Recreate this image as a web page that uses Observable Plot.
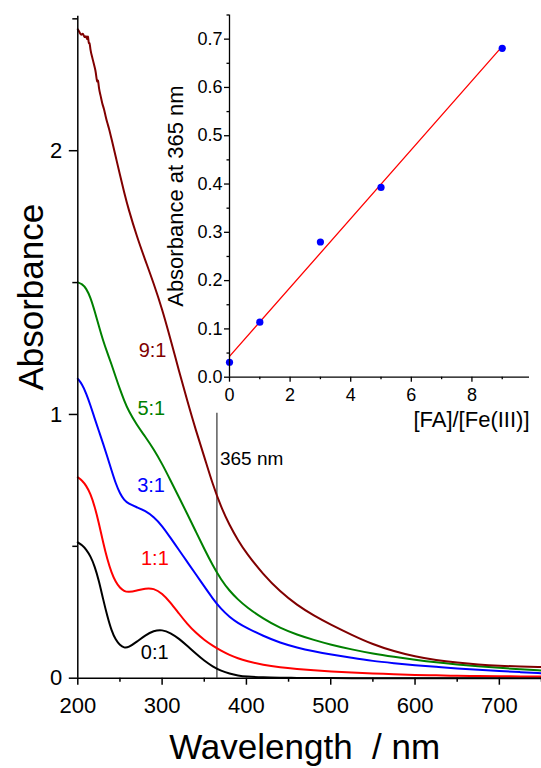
<!DOCTYPE html>
<html><head><meta charset="utf-8">
<script src="https://cdn.jsdelivr.net/npm/d3@7"></script>
<script src="https://cdn.jsdelivr.net/npm/@observablehq/plot@0.6"></script>
<style>
html,body{margin:0;padding:0;background:#fff;}
#wrap{position:relative;width:541px;height:768px;overflow:hidden;font-family:"Liberation Sans",Arial,sans-serif;}
#main,#inset{position:absolute;top:0;}
#main{left:0;}
#inset{left:140px;}
</style></head>
<body><div id="wrap"><div id="main"></div><div id="inset"></div></div>
<script>
// ---- Main spectra data ----
const wl = [200,205,210,215,220,225,230,235,240,245,250,255,260,270,280,290,300,310,320,330,340,350,360,370,380,390,400,420,440,460,480,500,525,550,575,600,625,650,675,700,725,750];
const abs01 = [0.515,0.505,0.488,0.463,0.425,0.37,0.30,0.235,0.18,0.145,0.125,0.115,0.116,0.138,0.163,0.18,0.184,0.172,0.15,0.122,0.093,0.066,0.044,0.028,0.017,0.01,0.006,0.003,0.002,0.001,0.001,0.001,0,0,0,0,0,0,0,0,0,0];
const abs11 = [0.762,0.75,0.73,0.70,0.652,0.588,0.515,0.45,0.40,0.364,0.342,0.33,0.326,0.332,0.341,0.341,0.322,0.287,0.245,0.205,0.172,0.145,0.123,0.104,0.088,0.075,0.065,0.05,0.041,0.035,0.03,0.026,0.021,0.018,0.015,0.012,0.011,0.009,0.008,0.007,0.007,0.006];
const abs31 = [1.135,1.115,1.08,1.035,0.985,0.937,0.89,0.84,0.788,0.738,0.70,0.675,0.662,0.648,0.635,0.612,0.578,0.532,0.486,0.44,0.394,0.348,0.302,0.262,0.232,0.209,0.191,0.16,0.134,0.116,0.102,0.09,0.077,0.065,0.057,0.049,0.043,0.037,0.032,0.027,0.023,0.019];
const abs51 = [1.501,1.495,1.478,1.444,1.392,1.335,1.28,1.234,1.19,1.142,1.095,1.053,1.015,0.96,0.916,0.868,0.813,0.75,0.686,0.622,0.556,0.49,0.428,0.373,0.331,0.298,0.27,0.225,0.19,0.165,0.145,0.127,0.109,0.093,0.081,0.07,0.06,0.052,0.045,0.039,0.034,0.029];
const wl91 = [200,202,204,206,208,210,211,212,213,214,215,217,219,221,222,223,224,225,227,229,231,233,235,237,240,245,250,255,260,270,280,290,300,310,320,330,340,350,360,370,380,390,400,420,440,460,480,500,525,550,575,600,625,650,675,700,725,750];
const abs91 = [2.46,2.45,2.435,2.45,2.425,2.44,2.415,2.445,2.40,2.415,2.38,2.355,2.33,2.305,2.28,2.255,2.275,2.235,2.21,2.178,2.16,2.13,2.105,2.085,2.045,1.977,1.908,1.842,1.78,1.675,1.585,1.497,1.4,1.285,1.165,1.05,0.94,0.84,0.735,0.648,0.58,0.523,0.474,0.393,0.328,0.277,0.237,0.203,0.164,0.128,0.102,0.082,0.068,0.059,0.052,0.047,0.044,0.042];

const ratios = ["0:1","1:1","3:1","5:1","9:1"];
const labelWl = [291.3, 291.4, 286.9, 287.2, 288.7];
const labelAbs = [0.0955, 0.4545, 0.732, 1.024, 1.242];

const markerWl = 365;
const markerTop = 1.005;
const markerLabel = "365 nm";
const markerLabelAbs = 0.83;

const xMajor = [200,300,400,500,600,700];
const xMinor = [250,350,450,550,650,750];
const yMajor = [0,1,2];
const yMinor = [0.5,1.5,2.5];

// ---- Inset data ----
const faFe = [0, 1, 3, 5, 9];
const abs365 = [0.031, 0.114, 0.280, 0.393, 0.681];
const insetXMajor = [0,2,4,6,8];
const insetXMinor = [1,3,5,7,9];
const insetYMajor = [0,0.1,0.2,0.3,0.4,0.5,0.6,0.7];
const insetYMinor = [0.05,0.15,0.25,0.35,0.45,0.55,0.65,0.75];

// ---- Build tables ----
const seriesArrays = {"0:1":[wl,abs01],"1:1":[wl,abs11],"3:1":[wl,abs31],"5:1":[wl,abs51],"9:1":[wl91,abs91]};
const rows = [];
for (const r of ratios) {
  const [xs, ys] = seriesArrays[r];
  xs.forEach((x,i) => rows.push({wl: x, a: ys[i], ratio: r}));
}
const labelRows = ratios.map((r,i) => ({wl: labelWl[i], a: labelAbs[i], ratio: r}));
const insetRows = faFe.map((x,i) => ({r: x, a: abs365[i]}));

const FONT = '"Liberation Sans", Arial, Helvetica, sans-serif';
const blank = () => "";

const main = Plot.plot({
  width: 541, height: 768,
  marginLeft: 77.3, marginRight: 0, marginTop: 15.7, marginBottom: 90.3,
  x: {domain: [200, 750], label: null},
  y: {domain: [0, 2.51], label: null},
  color: {domain: ratios, range: ["#000000","#ff0000","#0000ff","#008000","#800000"]},
  style: {fontFamily: FONT, background: "transparent", overflow: "visible"},
  marks: [
    Plot.ruleX([{x: markerWl, y1: 0, y2: markerTop}], {x: "x", y1: "y1", y2: "y2", stroke: "#333", strokeWidth: 1.2}),
    Plot.line(rows, {x: "wl", y: "a", z: "ratio", stroke: "ratio", strokeWidth: 2, curve: "basis"}),
    Plot.text(labelRows, {x: "wl", y: "a", text: "ratio", fill: "ratio", fontSize: 20}),
    Plot.text([{x: markerWl, y: markerLabelAbs, t: markerLabel}], {x: "x", y: "y", text: "t", dx: 3, textAnchor: "start", fontSize: 19, fill: "#000"}),
    Plot.ruleX([200], {stroke: "#000", strokeWidth: 1.5}),
    Plot.ruleY([0], {stroke: "#000", strokeWidth: 1.5}),
    Plot.axisX(xMajor, {tickSize: 7, tickPadding: 12, fontSize: 22, strokeWidth: 1.5, label: null, tickFormat: d => String(d)}),
    Plot.axisX(xMinor, {tickSize: 4, strokeWidth: 1.5, label: null, tickFormat: blank}),
    Plot.axisY(yMajor, {tickSize: 8.5, tickPadding: 7, fontSize: 22, strokeWidth: 1.5, label: null, tickFormat: d => String(d)}),
    Plot.axisY(yMinor, {tickSize: 5, strokeWidth: 1.5, label: null, tickFormat: blank}),
    Plot.text(["Wavelength  / nm"], {text: d => d, frameAnchor: "bottom", textAnchor: "middle", dy: 81, dx: -5, fontSize: 35, fill: "#000"}),
    Plot.text(["Absorbance"], {text: d => d, frameAnchor: "left", textAnchor: "middle", rotate: -90, dx: -46, dy: -50, fontSize: 35, fill: "#000"})
  ]
});
document.getElementById("main").appendChild(main);

const inset = Plot.plot({
  width: 401, height: 440,
  marginLeft: 89, marginRight: 12, marginTop: 14.5, marginBottom: 63.3,
  x: {domain: [0, 9.9], label: null},
  y: {domain: [0, 0.75], label: null},
  style: {fontFamily: FONT, background: "transparent", overflow: "visible"},
  marks: [
    Plot.linearRegressionY(insetRows, {x: "r", y: "a", stroke: "#ff0000", strokeWidth: 1.3, ci: 0}),
    Plot.dot(insetRows, {x: "r", y: "a", r: 3.6, fill: "#0000ff", stroke: "none"}),
    Plot.ruleX([0], {stroke: "#000", strokeWidth: 1.3}),
    Plot.ruleY([0], {stroke: "#000", strokeWidth: 1.3}),
    Plot.axisX(insetXMajor, {tickSize: 5, tickPadding: 6, fontSize: 18, strokeWidth: 1.3, label: null, tickFormat: d => String(d)}),
    Plot.axisX(insetXMinor, {tickSize: 2.5, strokeWidth: 1.3, label: null, tickFormat: blank}),
    Plot.axisY(insetYMajor, {tickSize: 5, tickPadding: 2, fontSize: 18, strokeWidth: 1.3, label: null, tickFormat: d => d.toFixed(1)}),
    Plot.axisY(insetYMinor, {tickSize: 2.5, strokeWidth: 1.3, label: null, tickFormat: blank}),
    Plot.text(["[FA]/[Fe(III)]"], {text: d => d, frameAnchor: "bottom-right", textAnchor: "end", dy: 50, fontSize: 22, fill: "#000"}),
    Plot.text(["Absorbance at 365 nm"], {text: d => d, frameAnchor: "left", textAnchor: "middle", rotate: -90, dx: -53.5, fontSize: 22, fill: "#000"})
  ]
});
document.getElementById("inset").appendChild(inset);
</script>
</body></html>
